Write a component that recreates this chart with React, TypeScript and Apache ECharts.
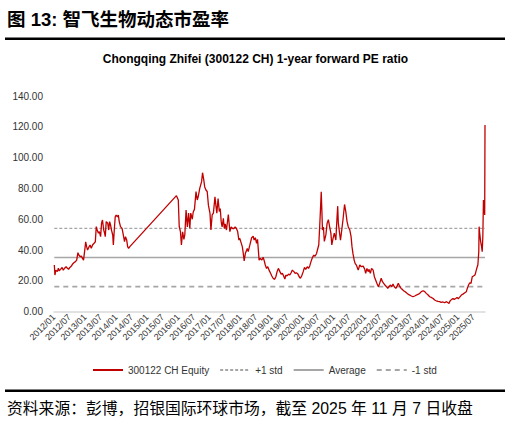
import React, { useEffect, useRef } from "react";
import * as echarts from "echarts";

// Date positions as decimal years (e.g. 2016.5 = mid-2016)
const dates = [
  2012.01, 2012.03, 2012.06, 2012.11, 2012.14, 2012.17, 2012.21, 2012.26, 2012.30, 2012.34,
  2012.39, 2012.43, 2012.47, 2012.51, 2012.56, 2012.60, 2012.64, 2012.69, 2012.73, 2012.77,
  2012.80, 2012.84, 2012.88, 2012.92, 2012.95, 2012.99, 2013.02, 2013.05, 2013.08, 2013.13,
  2013.16, 2013.20, 2013.24, 2013.29, 2013.33, 2013.36, 2013.39, 2013.43, 2013.46, 2013.50,
  2013.53, 2013.56, 2013.60, 2013.63, 2013.65, 2013.68, 2013.73, 2013.76, 2013.79, 2013.82,
  2013.85, 2013.89, 2013.91, 2013.94, 2013.97, 2014.00, 2014.04, 2014.07, 2014.10, 2014.14,
  2014.19, 2014.23, 2014.27, 2014.30, 2014.34, 2014.37, 2014.40, 2014.44,
  2015.94, 2016.00, 2016.03, 2016.07, 2016.10, 2016.14, 2016.18, 2016.21, 2016.25, 2016.29,
  2016.33, 2016.37, 2016.40, 2016.45, 2016.48, 2016.52, 2016.57, 2016.61, 2016.64, 2016.69,
  2016.75, 2016.78, 2016.82, 2016.85, 2016.89, 2016.93, 2016.97, 2017.02, 2017.05, 2017.09,
  2017.13, 2017.18, 2017.21, 2017.24, 2017.28, 2017.32, 2017.35, 2017.38, 2017.41, 2017.45,
  2017.48, 2017.51, 2017.55, 2017.61, 2017.66, 2017.70, 2017.75, 2017.79, 2017.83, 2017.87,
  2017.91, 2017.95, 2017.98, 2018.01, 2018.06, 2018.09, 2018.12, 2018.16, 2018.22, 2018.25,
  2018.30, 2018.36, 2018.41, 2018.44, 2018.48, 2018.52, 2018.55, 2018.58, 2018.60, 2018.64,
  2018.69, 2018.73, 2018.76, 2018.80, 2018.84, 2018.88, 2018.92, 2018.97, 2019.01, 2019.05,
  2019.10, 2019.14, 2019.18, 2019.22, 2019.27, 2019.31, 2019.35, 2019.40, 2019.43, 2019.46,
  2019.50, 2019.55, 2019.59, 2019.63, 2019.67, 2019.72, 2019.76, 2019.80, 2019.85, 2019.89,
  2019.93, 2019.97, 2020.02, 2020.06, 2020.10, 2020.15, 2020.19, 2020.23, 2020.27, 2020.32,
  2020.36, 2020.40, 2020.45, 2020.49, 2020.52, 2020.55, 2020.57, 2020.60, 2020.62, 2020.64,
  2020.67, 2020.70, 2020.75, 2020.79, 2020.83, 2020.87, 2020.91, 2020.94, 2020.98, 2021.02,
  2021.07, 2021.11, 2021.13, 2021.15, 2021.19, 2021.22, 2021.26, 2021.30, 2021.35, 2021.39,
  2021.43, 2021.47, 2021.52, 2021.56, 2021.59, 2021.62, 2021.66, 2021.69, 2021.73, 2021.79,
  2021.84, 2021.89, 2021.95, 2022.00, 2022.03, 2022.07, 2022.11, 2022.14, 2022.18, 2022.22,
  2022.27, 2022.31, 2022.35, 2022.40, 2022.44, 2022.48, 2022.53, 2022.57, 2022.61, 2022.65,
  2022.70, 2022.74, 2022.78, 2022.83, 2022.87, 2022.91, 2022.95, 2023.00, 2023.04, 2023.08,
  2023.13, 2023.17, 2023.21, 2023.25, 2023.30, 2023.34, 2023.39, 2023.45, 2023.50, 2023.55,
  2023.61, 2023.66, 2023.71, 2023.77, 2023.82, 2023.88, 2023.93, 2023.98, 2024.04, 2024.09,
  2024.14, 2024.20, 2024.25, 2024.30, 2024.36, 2024.41, 2024.46, 2024.52, 2024.57, 2024.63,
  2024.68, 2024.71, 2024.75, 2024.80, 2024.84, 2024.88, 2024.93, 2024.97, 2025.01, 2025.05,
  2025.11, 2025.16, 2025.22, 2025.27, 2025.30, 2025.34, 2025.38, 2025.42, 2025.46, 2025.50,
  2025.55, 2025.59, 2025.62, 2025.64, 2025.67, 2025.68, 2025.70, 2025.73, 2025.76, 2025.78,
  2025.80, 2025.82, 2025.84, 2025.86, 2025.87,
];

// 1-year forward PE of 300122 CH
const pe = [
  30.3, 23.8, 27.0, 26.0, 28.2, 26.6, 27.5, 28.7, 27.0, 28.2,
  29.2, 28.2, 27.5, 28.7, 29.6, 31.0, 31.8, 32.5, 33.5, 38.3,
  36.8, 35.7, 36.1, 34.6, 33.5, 40.0, 45.4, 42.2, 40.0, 42.2,
  43.3, 41.1, 43.3, 44.4, 45.4, 55.2, 53.0, 50.9, 52.0, 48.7,
  57.4, 59.5, 53.0, 50.9, 48.7, 58.5, 57.4, 53.0, 58.5, 56.3,
  53.0, 49.8, 43.3, 53.0, 61.6, 62.7, 61.6, 62.7, 58.5, 55.2,
  54.1, 49.8, 45.4, 48.7, 46.5, 42.2, 41.1, 42.2,
  75.3, 72.5, 55.2, 51.9, 43.3, 51.9, 47.0, 50.0, 66.0, 55.0,
  64.0, 54.0, 64.0, 60.0, 64.7, 66.4, 77.9, 72.5, 74.6, 80.0,
  84.4, 90.2, 85.5, 81.0, 79.0, 78.0, 69.0, 63.8, 53.0, 62.8,
  64.0, 74.6, 69.0, 64.0, 73.5, 65.0, 67.0, 58.5, 55.0, 60.6,
  54.0, 57.0, 53.0, 63.0, 52.0, 55.0, 54.0, 54.0, 55.0, 54.0,
  52.0, 46.5, 47.6, 45.5, 42.2, 38.0, 33.0, 38.0, 41.0, 39.0,
  43.0, 48.0, 49.0, 46.5, 48.0, 44.3, 47.0, 39.0, 33.5, 34.6,
  33.5, 35.3, 33.5, 30.3, 28.1, 29.2, 27.0, 24.9, 23.2, 21.7,
  21.0, 22.7, 26.0, 28.1, 26.0, 24.4, 24.9, 22.7, 21.2, 23.8,
  23.2, 24.4, 23.8, 25.3, 27.0, 26.0, 24.9, 25.3, 24.4, 22.7,
  21.7, 23.2, 26.0, 28.8, 27.5, 29.2, 28.1, 29.7, 32.5, 35.3,
  36.7, 36.0, 37.8, 41.0, 43.3, 55.2, 63.9, 77.9, 66.0, 53.0,
  55.0, 45.6, 50.0, 57.5, 59.7, 55.0, 51.0, 43.3, 47.6, 51.0,
  46.5, 61.9, 68.5, 57.5, 51.0, 46.5, 53.0, 59.7, 69.6, 65.0,
  58.6, 55.0, 53.0, 48.7, 42.2, 37.8, 33.5, 31.4, 30.3, 27.0,
  30.3, 29.2, 29.6, 27.5, 24.9, 28.1, 26.0, 27.5, 24.9, 28.1,
  27.0, 22.7, 20.6, 18.0, 16.2, 18.4, 21.7, 19.5, 18.4, 17.3,
  16.2, 15.1, 16.2, 17.3, 16.2, 18.0, 16.2, 15.1, 16.6, 18.4,
  16.2, 15.1, 14.5, 13.6, 13.0, 12.3, 11.4, 10.8, 10.2, 9.7,
  10.2, 10.8, 11.2, 11.9, 13.0, 13.6, 13.0, 11.9, 10.8, 9.7,
  9.3, 8.6, 7.6, 7.1, 6.7, 6.5, 6.0, 6.3, 5.8, 6.5,
  5.8, 5.4, 7.1, 8.0, 8.6, 8.0, 8.6, 9.3, 8.4, 9.3,
  10.8, 11.4, 12.3, 13.0, 15.1, 17.3, 18.8, 18.4, 22.7, 23.2,
  23.9, 27.0, 29.2, 30.3, 38.9, 55.2, 50.9, 45.5, 42.2, 38.9,
  48.7, 72.5, 68.1, 62.8, 121.2,
];

const averagePE = 35.2;
const plusOneStd = 54.1;
const minusOneStd = 16.3;

const seriesNames = ["300122 CH Equity", "+1 std", "Average", "-1 std"];
const figureTitle = "图 13: 智飞生物动态市盈率";
const chartTitle = "Chongqing Zhifei (300122 CH) 1-year forward PE ratio";
const sourceNote = "资料来源：彭博，招银国际环球市场，截至 2025 年 11 月 7 日收盘";

const FONT = "'Liberation Sans', Arial, 'Noto Sans CJK SC', sans-serif";

export default function App() {
  const ref = useRef<HTMLDivElement>(null);

  useEffect(() => {
    const chart = echarts.init(ref.current as HTMLDivElement, null, { renderer: "svg" });
    const first = dates[0];
    const last = dates[dates.length - 1];
    const flat = (v: number) => [[first, v], [last, v]];

    chart.setOption({
      animation: false,
      backgroundColor: "#ffffff",
      title: {
        text: chartTitle,
        left: "center",
        top: 48,
        textStyle: { fontSize: 12, fontWeight: "bold", color: "#000", fontFamily: FONT },
      },
      graphic: [
        {
          type: "text",
          x: 7,
          y: 19,
          style: {
            text: figureTitle,
            fontSize: 18.5,
            fontWeight: "bold",
            fontFamily: FONT,
            fill: "#000",
            align: "left",
            verticalAlign: "middle",
          },
        },
        { type: "rect", shape: { x: 5, y: 37.5, width: 500, height: 2.5 }, style: { fill: "#000" } },
        { type: "rect", shape: { x: 5, y: 389.5, width: 500, height: 2.5 }, style: { fill: "#000" } },
        {
          type: "text",
          x: 7,
          y: 408,
          style: {
            text: sourceNote,
            fontSize: 15.8,
            fontFamily: FONT,
            fill: "#000",
            align: "left",
            verticalAlign: "middle",
          },
        },
      ],
      legend: {
        data: seriesNames,
        left: 87,
        top: 360,
        itemWidth: 30,
        itemHeight: 10,
        itemGap: 10,
        itemStyle: { opacity: 0 },
        textStyle: { fontSize: 10, color: "#333", fontFamily: FONT },
      },
      grid: { left: 54, right: 26, top: 96, bottom: 113.3 },
      xAxis: {
        type: "value",
        min: 2012,
        max: last,
        interval: 0.5,
        axisLine: { show: true, lineStyle: { color: "#d9d9d9", width: 1.5 } },
        axisTick: { show: false },
        splitLine: { show: false },
        axisLabel: {
          rotate: 45,
          fontSize: 9,
          color: "#333",
          fontFamily: FONT,
          margin: 4,
          showMaxLabel: false,
          formatter: (v: number) => {
            const y = Math.floor(v + 1e-6);
            const frac = v - y;
            if (Math.abs(frac) < 1e-6) return `${y}/01`;
            if (Math.abs(frac - 0.5) < 1e-6) return `${y}/07`;
            return "";
          },
        },
      },
      yAxis: {
        type: "value",
        min: 0,
        max: 140,
        interval: 20,
        axisLine: { show: false },
        axisTick: { show: false },
        splitLine: { show: false },
        axisLabel: {
          fontSize: 10,
          color: "#333",
          fontFamily: FONT,
          margin: 11,
          formatter: (v: number) => v.toFixed(2),
        },
      },
      series: [
        {
          name: seriesNames[1],
          type: "line",
          symbol: "none",
          data: flat(plusOneStd),
          lineStyle: { color: "#a6a6a6", width: 1.3, type: [3, 2] },
          itemStyle: { color: "#a6a6a6" },
          z: 2,
        },
        {
          name: seriesNames[2],
          type: "line",
          symbol: "none",
          data: flat(averagePE),
          lineStyle: { color: "#a6a6a6", width: 1.5, type: "solid" },
          itemStyle: { color: "#a6a6a6" },
          z: 2,
        },
        {
          name: seriesNames[3],
          type: "line",
          symbol: "none",
          data: flat(minusOneStd),
          lineStyle: { color: "#a6a6a6", width: 1.8, type: [5, 4] },
          itemStyle: { color: "#a6a6a6" },
          z: 2,
        },
        {
          name: seriesNames[0],
          type: "line",
          symbol: "none",
          data: dates.map((d, i) => [d, pe[i]]),
          lineStyle: { color: "#c00000", width: 1.3 },
          itemStyle: { color: "#c00000" },
          z: 3,
        },
      ],
    });

    return () => chart.dispose();
  }, []);

  return (
    <div
      ref={ref}
      style={{ position: "fixed", left: 0, top: 0, width: 511, height: 425, background: "#fff" }}
    />
  );
}
